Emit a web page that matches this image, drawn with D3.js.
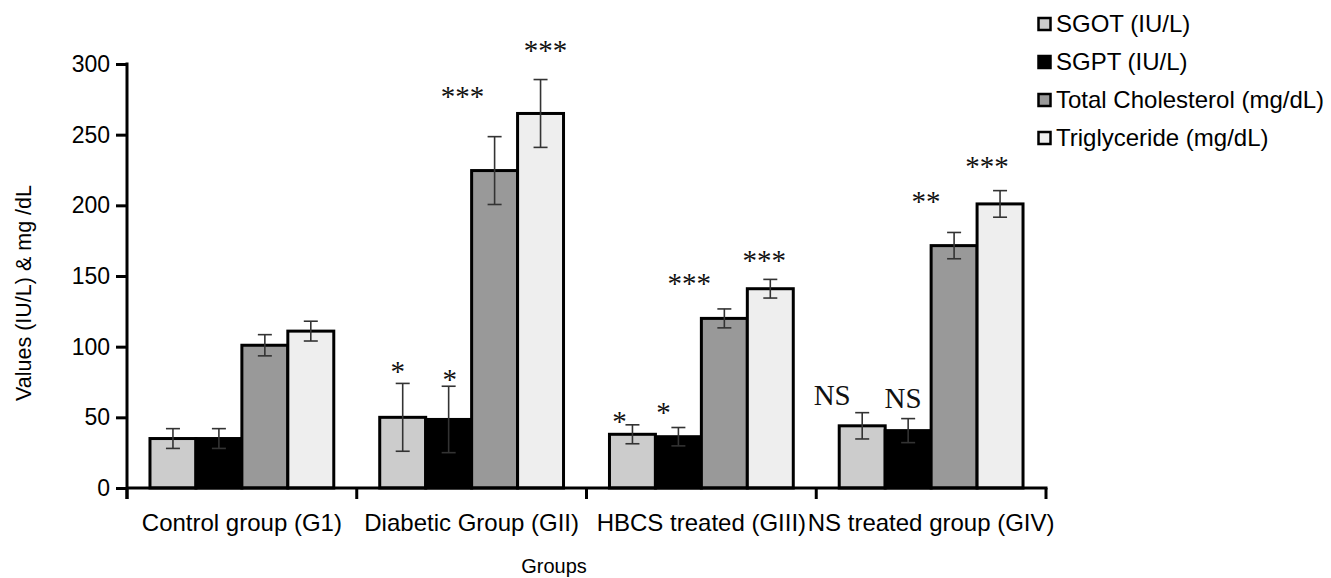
<!DOCTYPE html>
<html>
<head>
<meta charset="utf-8">
<script src="https://cdn.jsdelivr.net/npm/d3@7"></script>
<style>
  html, body { margin: 0; padding: 0; background: #fff; }
  svg { display: block; font-family: "Liberation Sans", Arial, sans-serif; }
</style>
</head>
<body>
<div id="chart"></div>
<script>
"use strict";

// data
var groups = ["Control group (G1)", "Diabetic Group (GII)", "HBCS treated (GIII)", "NS treated group (GIV)"];
var seriesNames = ["SGOT (IU/L)", "SGPT (IU/L)", "Total Cholesterol (mg/dL)", "Triglyceride (mg/dL)"];
var sgot = [35, 50, 38, 44];
var sgpt = [35, 48.5, 36.3, 40.6];
var totalChol = [101, 224.6, 120, 171.5];
var triglyceride = [111, 265, 141, 201];
var sgotErr = [7, 24, 6.7, 9.3];
var sgptErr = [7, 23.5, 6.5, 8.5];
var totalCholErr = [7.5, 24, 6.7, 9.3];
var triglycerideErr = [7, 24, 6.6, 9.4];
// significance marks, per group, per series
var marks = [
	["", "", "", ""],
	["*", "*", "***", "***"],
	["*", "*", "***", "***"],
	["NS", "NS", "**", "***"]
];
var yTicks = [0, 50, 100, 150, 200, 250, 300];

// layout / style
var width = 1331, height = 578;
var colors = ["#cccccc", "#000000", "#999999", "#eeeeee"];
// where each mark sits relative to bar centre / error-bar top (dx, gap)
var markDx = [
	[0, 0, 0, 0],
	[-5, 1, -32, 5],
	[-13, -15, -35, -6],
	[-30, -5, -28, -13]
];
var markGap = [
	[0, 0, 0, 0],
	[17, 12, 46, 35],
	[9, 21, 31, 24],
	[18, 21, 36, 30]
];

var values = [sgot, sgpt, totalChol, triglyceride];
var errs = [sgotErr, sgptErr, totalCholErr, triglycerideErr];

var svg = d3.select("#chart").append("svg")
	.attr("width", width)
	.attr("height", height);

svg.append("rect").attr("width", width).attr("height", height).attr("fill", "#fff");

var x0 = d3.scaleBand().domain(groups).range([127, 1046]).padding(0);
var x1 = d3.scaleBand().domain(d3.range(seriesNames.length))
	.range([x0.bandwidth() * 0.1, x0.bandwidth() * 0.9]).padding(0);
var y = d3.scaleLinear().domain([0, 300]).range([488, 64]);

// bars
var gGroups = svg.selectAll("g.grp").data(groups).enter().append("g")
	.attr("class", "grp")
	.attr("transform", function(d) { return "translate(" + x0(d) + ",0)"; });

gGroups.each(function(g, gi) {
	var sel = d3.select(this);
	seriesNames.forEach(function(s, si) {
		var v = values[si][gi];
		sel.append("rect")
			.attr("x", x1(si))
			.attr("y", y(v))
			.attr("width", x1.bandwidth())
			.attr("height", y(0) - y(v))
			.attr("fill", colors[si])
			.attr("stroke", "#000")
			.attr("stroke-width", 3);
	});
});

// error bars and marks
gGroups.each(function(g, gi) {
	var sel = d3.select(this);
	seriesNames.forEach(function(s, si) {
		var v = values[si][gi], e = errs[si][gi];
		var cx = x1(si) + x1.bandwidth() / 2;
		var eb = sel.append("g").attr("stroke", "#333").attr("stroke-width", 1.6);
		eb.append("line").attr("x1", cx).attr("x2", cx).attr("y1", y(v - e)).attr("y2", y(v + e));
		eb.append("line").attr("x1", cx - 7).attr("x2", cx + 7).attr("y1", y(v + e)).attr("y2", y(v + e));
		eb.append("line").attr("x1", cx - 7).attr("x2", cx + 7).attr("y1", y(v - e)).attr("y2", y(v - e));

		var m = marks[gi][si];
		if (m) {
			var isNS = m === "NS";
			sel.append("text")
				.attr("x", cx + markDx[gi][si])
				.attr("y", y(v + e) - markGap[gi][si] + (isNS ? 10 : 15))
				.attr("text-anchor", "middle")
				.style("font-family", "'Liberation Serif', 'Times New Roman', serif")
				.style("font-size", "29px")
				.attr("fill", "#111")
				.text(m);
		}
	});
});

// y axis
var yAxis = svg.append("g")
	.attr("transform", "translate(127,0)")
	.call(d3.axisLeft(y).tickValues(yTicks).tickSize(11).tickSizeOuter(0).tickPadding(6));
yAxis.select(".domain").remove();
yAxis.selectAll(".tick line").attr("stroke", "#000").attr("stroke-width", 3);
yAxis.selectAll(".tick text")
	.style("font-family", "'Liberation Sans', Arial, sans-serif")
	.style("font-size", "23px")
	.attr("fill", "#000");
svg.append("line")
	.attr("x1", 127).attr("x2", 127)
	.attr("y1", y(300) - 1.5).attr("y2", y(0) + 11)
	.attr("stroke", "#000").attr("stroke-width", 3);

// x axis: boundary ticks plus centred labels
svg.append("line")
	.attr("x1", 127).attr("x2", 1046 + 1.5)
	.attr("y1", y(0)).attr("y2", y(0))
	.attr("stroke", "#000").attr("stroke-width", 3);
var bounds = groups.map(function(d) { return x0(d); }).concat([x0.range()[1]]);
svg.selectAll("line.xtick").data(bounds).enter().append("line")
	.attr("class", "xtick")
	.attr("x1", function(d) { return d; }).attr("x2", function(d) { return d; })
	.attr("y1", y(0)).attr("y2", y(0) + 11)
	.attr("stroke", "#000").attr("stroke-width", 3);

var xAxis = svg.append("g")
	.attr("transform", "translate(0," + y(0) + ")")
	.call(d3.axisBottom(x0).tickSize(0).tickPadding(26));
xAxis.select(".domain").remove();
xAxis.selectAll(".tick text")
	.style("font-family", "'Liberation Sans', Arial, sans-serif")
	.style("font-size", "24px")
	.attr("fill", "#000");

// axis titles
svg.append("text")
	.attr("x", 554).attr("y", 573)
	.attr("text-anchor", "middle")
	.style("font-size", "20px")
	.text("Groups");
svg.append("text")
	.attr("transform", "translate(31,293) rotate(-90)")
	.attr("text-anchor", "middle")
	.style("font-size", "21.5px")
	.text("Values (IU/L) & mg /dL");

// legend
var legend = svg.append("g").attr("transform", "translate(1037,0)");
var rowY = [24, 62, 100, 138];
seriesNames.forEach(function(s, i) {
	legend.append("rect")
		.attr("x", 1.5).attr("y", rowY[i] - 6)
		.attr("width", 12).attr("height", 12)
		.attr("fill", colors[i])
		.attr("stroke", "#000").attr("stroke-width", 2.5);
	legend.append("text")
		.attr("x", 19).attr("y", rowY[i])
		.attr("dy", "0.35em")
		.style("font-size", "24px")
		.text(s);
});
</script>
</body>
</html>
